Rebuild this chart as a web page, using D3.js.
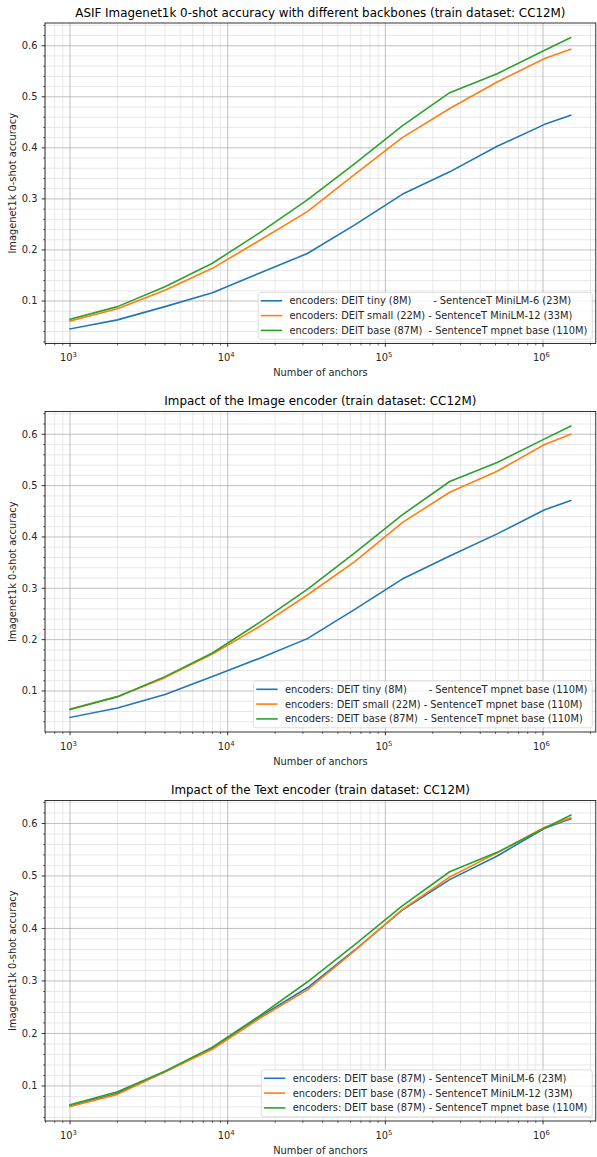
<!DOCTYPE html>
<html>
<head>
<meta charset="utf-8">
<script src="https://cdn.jsdelivr.net/npm/d3@7"></script>
<style>
  html, body { margin: 0; padding: 0; background: #ffffff; }
  svg { display: block; font-family: "DejaVu Sans", sans-serif; }
  .leg text { white-space: pre; }
</style>
</head>
<body>
<svg id="chart" width="597" height="1157"></svg>
<script>
// ---------- data ----------
const anchors = [1000, 2000, 4000, 8000, 16000, 32000, 64000, 128000, 256000, 512000, 1024000, 1500000];

// Panel 1: different backbones
const p1Tiny  = [0.0453, 0.063, 0.089, 0.116, 0.155, 0.193, 0.249, 0.309, 0.353, 0.403, 0.446, 0.464];
const p1Small = [0.061, 0.085, 0.121, 0.164, 0.219, 0.275, 0.348, 0.420, 0.477, 0.529, 0.575, 0.593];
const p1Base  = [0.064, 0.089, 0.128, 0.174, 0.234, 0.298, 0.369, 0.443, 0.508, 0.545, 0.591, 0.616];

// Panel 2: image encoder (text: mpnet base)
const p2Tiny  = [0.0485, 0.067, 0.093, 0.128, 0.164, 0.202, 0.259, 0.318, 0.363, 0.406, 0.453, 0.471];
const p2Small = [0.065, 0.089, 0.126, 0.172, 0.226, 0.287, 0.352, 0.428, 0.487, 0.528, 0.580, 0.600];
const p2Base  = p1Base;

// Panel 3: text encoder (image: DEIT base)
const p3MiniLM6  = [0.062, 0.086, 0.127, 0.172, 0.232, 0.287, 0.359, 0.435, 0.493, 0.538, 0.591, 0.609];
const p3MiniLM12 = [0.061, 0.084, 0.127, 0.170, 0.229, 0.283, 0.358, 0.436, 0.498, 0.544, 0.593, 0.611];
const p3Mpnet    = p1Base;

const titles = [
  "ASIF Imagenet1k 0-shot accuracy with different backbones (train dataset: CC12M)",
  "Impact of the Image encoder (train dataset: CC12M)",
  "Impact of the Text encoder (train dataset: CC12M)"
];
const legends = [
  ["encoders: DEIT tiny (8M)       - SentenceT MiniLM-6 (23M)",
   "encoders: DEIT small (22M) - SentenceT MiniLM-12 (33M)",
   "encoders: DEIT base (87M)  - SentenceT mpnet base (110M)"],
  ["encoders: DEIT tiny (8M)       - SentenceT mpnet base (110M)",
   "encoders: DEIT small (22M) - SentenceT mpnet base (110M)",
   "encoders: DEIT base (87M)  - SentenceT mpnet base (110M)"],
  ["encoders: DEIT base (87M) - SentenceT MiniLM-6 (23M)",
   "encoders: DEIT base (87M) - SentenceT MiniLM-12 (33M)",
   "encoders: DEIT base (87M) - SentenceT mpnet base (110M)"]
];
const seriesByPanel = [
  [p1Tiny, p1Small, p1Base],
  [p2Tiny, p2Small, p2Base],
  [p3MiniLM6, p3MiniLM12, p3Mpnet]
];
const yTicks = [0.1, 0.2, 0.3, 0.4, 0.5, 0.6];
const xTicks = [1e3, 1e4, 1e5, 1e6];
const xTickExp = ["3", "4", "5", "6"];
const colors = ["#1f77b4", "#ff7f0e", "#2ca02c"];
const xLabel = "Number of anchors";
const yLabel = "Imagenet1k 0-shot accuracy";

// ---------- layout ----------
const svg = d3.select("#chart");
const left = 45, right = 595.8;
const tops = [23, 411.5, 800.5];
const plotH = 320.5;
const fsTick = 9.85, fsTitle = 11.9;

const lx0 = Math.log10(anchors[0]), lx1 = Math.log10(anchors[anchors.length - 1]);
const xm = (lx1 - lx0) * 0.05;
const x = d3.scaleLog().domain([Math.pow(10, lx0 - xm), Math.pow(10, lx1 + xm)]).range([left, right]);

// minor x ticks
const xMinor = [];
for (let e = 2; e <= 6; e++) for (let s = 2; s <= 9; s++) {
  const v = s * Math.pow(10, e);
  if (v >= x.domain()[0] && v <= x.domain()[1]) xMinor.push(v);
}

seriesByPanel.forEach((series, pi) => {
  const top = tops[pi], bottom = top + plotH;
  const all = series.flat();
  const ymin = d3.min(all), ymax = d3.max(all), ym = (ymax - ymin) * 0.05;
  const y = d3.scaleLinear().domain([ymin - ym, ymax + ym]).range([bottom, top]);

  const g = svg.append("g");
  const yMinor = d3.range(0, 0.7001, 0.02).filter(v => v >= y.domain()[0] && v <= y.domain()[1] && Math.abs(Math.round(v * 10) - v * 10) > 1e-6);

  // minor grid
  const grid = g.append("g");
  grid.selectAll("line.xmin").data(xMinor).join("line")
    .attr("x1", d => x(d)).attr("x2", d => x(d)).attr("y1", top).attr("y2", bottom)
    .attr("stroke", "#e2e2e2").attr("stroke-width", 0.8);
  grid.selectAll("line.ymin").data(yMinor).join("line")
    .attr("class", "ymin")
    .attr("x1", left).attr("x2", right).attr("y1", d => y(d)).attr("y2", d => y(d))
    .attr("stroke", "#e2e2e2").attr("stroke-width", 0.8);
  // major grid
  g.append("g").selectAll("line").data(xTicks).join("line")
    .attr("x1", d => x(d)).attr("x2", d => x(d)).attr("y1", top).attr("y2", bottom)
    .attr("stroke", "#b0b0b0").attr("stroke-width", 0.8);
  g.append("g").selectAll("line").data(yTicks).join("line")
    .attr("x1", left).attr("x2", right).attr("y1", d => y(d)).attr("y2", d => y(d))
    .attr("stroke", "#b0b0b0").attr("stroke-width", 0.8);

  // lines
  const line = d3.line().x((d, i) => x(anchors[i])).y(d => y(d));
  series.forEach((s, si) => {
    g.append("path").datum(s).attr("d", line)
      .attr("fill", "none").attr("stroke", colors[si]).attr("stroke-width", 1.6)
      .attr("stroke-linejoin", "round").attr("stroke-linecap", "square");
  });

  // spines
  g.append("rect").attr("x", left).attr("y", top).attr("width", right - left).attr("height", plotH)
    .attr("fill", "none").attr("stroke", "#000").attr("stroke-width", 0.8);

  // x axis ticks
  g.append("g").selectAll("line").data(xTicks).join("line")
    .attr("x1", d => x(d)).attr("x2", d => x(d)).attr("y1", bottom).attr("y2", bottom + 3.3)
    .attr("stroke", "#000").attr("stroke-width", 0.8);
  g.append("g").selectAll("line").data(xMinor).join("line")
    .attr("x1", d => x(d)).attr("x2", d => x(d)).attr("y1", bottom).attr("y2", bottom + 1.9)
    .attr("stroke", "#000").attr("stroke-width", 0.6);
  const xl = g.append("g").selectAll("text").data(xTicks).join("text")
    .attr("x", d => x(d) - 1.5).attr("y", bottom + 17.5)
    .attr("text-anchor", "middle").attr("font-size", fsTick).attr("fill", "#262626");
  xl.append("tspan").text("10");
  xl.append("tspan").text((d, i) => xTickExp[i]).attr("font-size", fsTick * 0.7).attr("dy", -4);

  // y axis ticks
  g.append("g").selectAll("line").data(yTicks).join("line")
    .attr("x1", left - 3.3).attr("x2", left).attr("y1", d => y(d)).attr("y2", d => y(d))
    .attr("stroke", "#000").attr("stroke-width", 0.8);
  g.append("g").selectAll("line").data(yMinor).join("line")
    .attr("x1", left - 1.9).attr("x2", left).attr("y1", d => y(d)).attr("y2", d => y(d))
    .attr("stroke", "#000").attr("stroke-width", 0.6);
  g.append("g").selectAll("text").data(yTicks).join("text")
    .attr("x", left - 7.5).attr("y", d => y(d)).attr("dy", "0.35em")
    .attr("text-anchor", "end").attr("font-size", fsTick).attr("fill", "#262626")
    .text(d => d.toFixed(1));

  // labels
  g.append("text").attr("x", (left + right) / 2).attr("y", bottom + 32.8)
    .attr("text-anchor", "middle").attr("font-size", fsTick).attr("fill", "#262626").text(xLabel);
  g.append("text").attr("transform", `translate(${15.5},${(top + bottom) / 2}) rotate(-90)`)
    .attr("text-anchor", "middle").attr("font-size", fsTick).attr("fill", "#262626").text(yLabel);
  g.append("text").attr("x", (left + right) / 2).attr("y", top - 6.5)
    .attr("text-anchor", "middle").attr("font-size", fsTitle).attr("fill", "#000").text(titles[pi]);

  // legend
  const leg = g.append("g").attr("class", "leg");
  const rowH = 14.8;
  const texts = leg.selectAll("text").data(legends[pi]).join("text")
    .attr("font-size", fsTick).attr("fill", "#262626").text(d => d);
  let maxW = 0;
  texts.each(function () { maxW = Math.max(maxW, this.getComputedTextLength()); });
  const boxR = right - 3.5, boxB = bottom - 4.2;
  const boxW = 31.4 + maxW + 5, boxH = 3 * rowH + 2.5;
  const boxL = boxR - boxW, boxT = boxB - boxH;
  leg.insert("rect", "text").attr("x", boxL).attr("y", boxT).attr("width", boxW).attr("height", boxH)
    .attr("rx", 2.5).attr("fill", "rgba(255,255,255,0.8)").attr("stroke", "#d6d6d6").attr("stroke-width", 0.8);
  texts.attr("x", boxL + 31.4).attr("y", (d, i) => boxT + 8.4 + i * rowH).attr("dy", "0.35em");
  leg.selectAll("line").data(legends[pi]).join("line")
    .attr("x1", boxL + 2.6).attr("x2", boxL + 24)
    .attr("y1", (d, i) => boxT + 8.4 + i * rowH).attr("y2", (d, i) => boxT + 8.4 + i * rowH)
    .attr("stroke", (d, i) => colors[i]).attr("stroke-width", 1.6);
});
</script>
</body>
</html>
